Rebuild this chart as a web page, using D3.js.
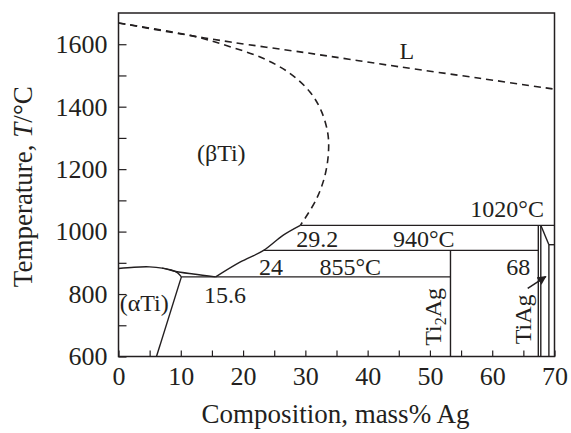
<!DOCTYPE html>
<html>
<head>
<meta charset="utf-8">
<script src="https://cdn.jsdelivr.net/npm/d3@7"></script>
<style>
  body { margin: 0; background: #fff; }
  svg text { font-family: "Liberation Serif", "DejaVu Serif", serif; fill: #231f20; }
</style>
</head>
<body>
<script>
// phase boundaries, [mass% Ag, T in °C]
const liquidus = [[0, 1668], [10, 1633], [18, 1607], [30, 1573], [37, 1552], [45, 1528], [58, 1491], [70, 1456]];
const betaSolidus = [[0, 1668], [12, 1626], [17.9, 1592], [23.2, 1555], [27.5, 1507], [30.7, 1448],
  [32.5, 1389], [33.6, 1315], [33.7, 1251], [33.1, 1176], [31.7, 1101], [29.2, 1020]];
const betaTransus = [[15.6, 855], [19.5, 902], [23.3, 940], [26.4, 988], [29.2, 1020]];
const alphaBeta = [[0, 882], [2.5, 886], [5, 887], [7, 883], [9, 873], [12, 864], [15.6, 855]];
const alphaBound = [[7, 883], [8.5, 877], [9.5, 868], [10.1, 855]];
const alphaSolvus = [[10.1, 855], [6.1, 600]];
const eutectoid855 = [[10.1, 855], [53.3, 855]];
const peritectoid940 = [[23.3, 940], [67.4, 940]];
const peritectic1020 = [[29.2, 1020], [70, 1020]];
const ti2ag = [[53.3, 940], [53.3, 600]];
const tiagLines = [
  [[67.4, 1020], [67.4, 600]],
  [[67.8, 1020], [67.8, 600]],
  [[67.8, 1020], [69.1, 958]],
  [[69.1, 958], [69.1, 600]],
  [[69.1, 958], [70, 958]]
];

const xTicks = d3.range(0, 71, 5);
const xLabels = [0, 10, 20, 30, 40, 50, 60, 70];
const yTicks = d3.range(600, 1700, 100);
const yLabels = [600, 800, 1000, 1200, 1400, 1600];

const width = 571, height = 433;
const plotL = 118.5, plotR = 554.5, plotT = 13, plotB = 356.5;

const x = d3.scaleLinear().domain([0, 70]).range([plotL, plotR]);
const y = d3.scaleLinear().domain([600, 1700]).range([plotB, plotT]);

const svg = d3.select("body").append("svg")
  .attr("width", width)
  .attr("height", height);

// axes (ticks point inward)
const xAxis = d3.axisBottom(x).tickValues(xTicks).tickSize(-6).tickPadding(10)
  .tickFormat(d => xLabels.includes(d) ? d : "");
const yAxis = d3.axisLeft(y).tickValues(yTicks).tickSize(-8).tickPadding(11)
  .tickFormat(d => yLabels.includes(d) ? d : "");

const gx = svg.append("g").attr("transform", `translate(0,${plotB})`).call(xAxis);
const gy = svg.append("g").attr("transform", `translate(${plotL},0)`).call(yAxis);
[gx, gy].forEach(g => {
  g.select(".domain").remove();
  g.selectAll(".tick line").attr("stroke", "#231f20").attr("stroke-width", 1.2);
  g.selectAll(".tick text").attr("font-size", 26).attr("font-family", "Liberation Serif");
});
gx.selectAll(".tick text").attr("dy", "0.71em");

// frame
svg.append("rect")
  .attr("x", plotL).attr("y", plotT)
  .attr("width", plotR - plotL).attr("height", plotB - plotT)
  .attr("fill", "none").attr("stroke", "#231f20").attr("stroke-width", 1.5);

const line = d3.line().x(d => x(d[0])).y(d => y(d[1]));
const smooth = d3.line().x(d => x(d[0])).y(d => y(d[1])).curve(d3.curveCatmullRom);

// dashed high-temperature boundaries
[liquidus, betaSolidus].forEach(data => {
  svg.append("path")
    .attr("d", smooth(data))
    .attr("fill", "none")
    .attr("stroke", "#231f20")
    .attr("stroke-width", 1.6)
    .attr("stroke-dasharray", "7,5");
});

// solid boundaries
[betaTransus, alphaBeta, alphaBound].forEach(data => {
  svg.append("path").attr("d", smooth(data))
    .attr("fill", "none").attr("stroke", "#231f20").attr("stroke-width", 1.4);
});
[alphaSolvus, eutectoid855, peritectoid940, peritectic1020, ti2ag, ...tiagLines].forEach(data => {
  svg.append("path").attr("d", line(data))
    .attr("fill", "none").attr("stroke", "#231f20").attr("stroke-width", 1.4);
});

// labels
const label = (t, cx, cy, anchor = "middle", size = 24) =>
  svg.append("text").attr("x", x(cx)).attr("y", y(cy))
    .attr("text-anchor", anchor).attr("font-size", size).text(t);

label("L", 46.3, 1552);
label("(βTi)", 16.5, 1226);
label("(αTi)", 0.2, 746, "start");
label("15.6", 17.1, 771);
label("24", 24.5, 861);
label("855°C", 37.2, 861);
label("29.2", 31.9, 952);
label("940°C", 49.0, 952);
label("1020°C", 62.4, 1048);
label("68", 64.2, 861);

const vlabel = (cx, cy) => svg.append("text")
  .attr("transform", `translate(${x(cx)},${y(cy)}) rotate(-90)`)
  .attr("text-anchor", "middle").attr("font-size", 24);

const t2 = vlabel(51.8, 727);
t2.append("tspan").text("Ti");
t2.append("tspan").attr("font-size", 16).attr("dy", 5).text("2");
t2.append("tspan").attr("dy", -5).text("Ag");
vlabel(66.2, 719).text("TiAg");

// arrow pointing at the TiAg phase
svg.append("defs").append("marker")
  .attr("id", "head").attr("viewBox", "0 0 10 10")
  .attr("refX", 9).attr("refY", 5)
  .attr("markerWidth", 9).attr("markerHeight", 9)
  .attr("markerUnits", "userSpaceOnUse")
  .attr("orient", "auto")
  .append("path").attr("d", "M0,0L10,5L0,10z").attr("fill", "#231f20");

svg.append("line")
  .attr("x1", x(65.7)).attr("y1", y(818))
  .attr("x2", x(68.6)).attr("y2", y(856))
  .attr("stroke", "#231f20").attr("stroke-width", 1.6)
  .attr("marker-end", "url(#head)");

// axis titles
svg.append("text")
  .attr("x", (plotL + plotR) / 2 - 1).attr("y", 423)
  .attr("text-anchor", "middle").attr("font-size", 27)
  .text("Composition, mass% Ag");

const yt = svg.append("text")
  .attr("transform", `translate(32,${(plotT + plotB) / 2 + 2}) rotate(-90)`)
  .attr("text-anchor", "middle").attr("font-size", 27);
yt.append("tspan").text("Temperature, ");
yt.append("tspan").attr("font-style", "italic").text("T");
yt.append("tspan").text("/°C");
</script>
</body>
</html>
